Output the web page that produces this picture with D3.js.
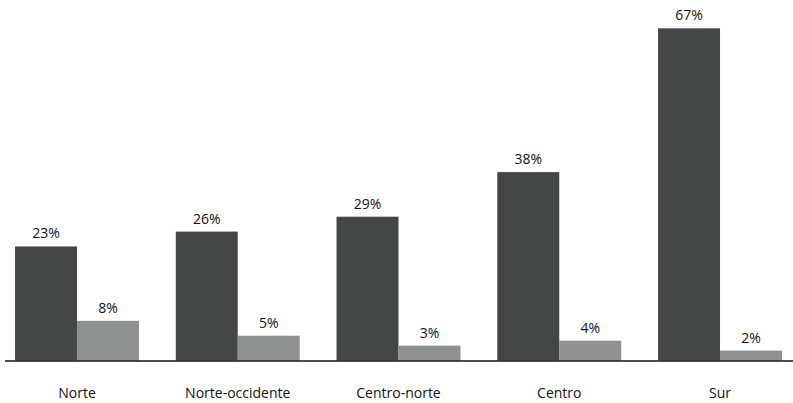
<!DOCTYPE html>
<html lang="es">
<head>
<meta charset="UTF-8">
<script src="https://d3js.org/d3.v7.min.js"></script>
<style>
  body { margin: 0; background: #fff; }
  text { font-family: "Open Sans", sans-serif; fill: #111; }
</style>
</head>
<body>
<svg id="chart" width="793" height="403"></svg>
<script>
let regions = ['Norte', 'Norte-occidente', 'Centro-norte', 'Centro', 'Sur']
let seriesA = [23, 26, 29, 38, 67]
let seriesB = [8, 5, 3, 4, 2]
let seriesKeys = ['a', 'b']
let seriesColors = ['#444748', '#8e9191']

let svg = d3.select('#chart')
let baseY = 360.5

let x = d3.scaleBand()
    .domain(regions)
    .range([15, 782])
    .paddingInner(0.229)
    .paddingOuter(0)

let xs = d3.scaleBand()
    .domain(seriesKeys)
    .range([0, x.bandwidth()])

let y = d3.scaleLinear()
    .domain([0, 67])
    .range([baseY, 28.3])

let rows = regions.map((r, i) => ({ region: r, a: seriesA[i], b: seriesB[i] }))

let groups = svg.selectAll('g.group')
    .data(rows)
    .enter()
    .append('g')
    .attr('class', 'group')
    .attr('transform', d => 'translate(' + x(d.region) + ',0)')

groups.selectAll('rect')
    .data(d => seriesKeys.map(k => ({ key: k, value: d[k] })))
    .enter()
    .append('rect')
    .attr('x', d => xs(d.key))
    .attr('y', d => y(d.value))
    .attr('width', xs.bandwidth())
    .attr('height', d => baseY - y(d.value))
    .attr('fill', (d, i) => seriesColors[i])

groups.selectAll('text.val')
    .data(d => seriesKeys.map(k => ({ key: k, value: d[k] })))
    .enter()
    .append('text')
    .attr('class', 'val')
    .attr('x', d => xs(d.key) + xs.bandwidth() / 2)
    .attr('y', d => y(d.value) - 8)
    .attr('text-anchor', 'middle')
    .style('font-size', '14px')
    .text(d => d.value + '%')

// baseline
svg.append('line')
    .attr('x1', 5)
    .attr('x2', 793)
    .attr('y1', baseY + 0.6)
    .attr('y2', baseY + 0.6)
    .attr('stroke', '#111')
    .attr('stroke-width', 1.5)

let xAxis = svg.append('g')
    .attr('transform', 'translate(0,' + baseY + ')')
    .call(d3.axisBottom(x).tickSize(0).tickPadding(28))
xAxis.select('.domain').remove()
xAxis.selectAll('text')
    .style('font-size', '14px')
    .style('font-family', '"Open Sans", sans-serif')
    .attr('fill', '#111')
</script>
</body>
</html>
